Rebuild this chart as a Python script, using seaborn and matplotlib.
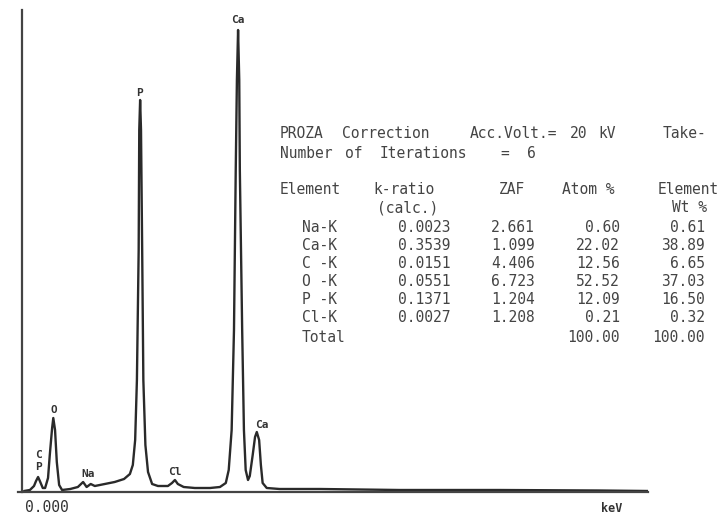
import seaborn as sns
import matplotlib.pyplot as plt

sns.set_style("white")
plt.rcParams['font.family'] = ['DejaVu Sans Mono', 'DejaVu Sans']

# spectrum (keV, counts)
energy = [0.03, 0.13, 0.20, 0.235, 0.27, 0.30, 0.35, 0.39, 0.44, 0.47, 0.51, 0.53,
          0.56, 0.59, 0.63, 0.68, 0.82, 0.95, 1.04, 1.10, 1.17, 1.24, 1.41, 1.58,
          1.74, 1.84, 1.89, 1.93, 1.96, 1.99, 2.00, 2.015, 2.03, 2.05, 2.07, 2.105,
          2.15, 2.22, 2.32, 2.49, 2.56, 2.61, 2.66, 2.76, 2.95, 3.21, 3.38, 3.48,
          3.53, 3.58, 3.62, 3.65, 3.67, 3.69, 3.71, 3.72, 3.76, 3.79, 3.82, 3.86,
          3.89, 3.94, 3.98, 4.01, 4.05, 4.08, 4.11, 4.18, 4.40, 5.09, 6.45, 8.16,
          9.87, 10.70]
counts = [10, 20, 60, 110, 150, 110, 40, 40, 140, 370, 640, 740,
          620, 300, 70, 20, 30, 50, 100, 50, 80, 60, 80, 100,
          130, 180, 270, 520, 1120, 2420, 3620, 3920, 3620, 2420, 1120, 470,
          200, 80, 60, 60, 90, 120, 80, 50, 40, 40, 50, 90,
          220, 620, 1620, 3220, 4120, 4620, 4120, 3220, 1620, 620, 220, 120,
          160, 370, 550, 600, 520, 270, 90, 40, 30, 30, 20, 20,
          15, 10]

# peak labels
peak_names = ['Ca', 'P', 'O', 'C', 'P', 'Na', 'Cl', 'Ca']
peak_x = [3.69, 2.01, 0.54, 0.27, 0.27, 1.12, 2.61, 4.09]
peak_y = [4720, 3990, 820, 370, 250, 180, 200, 670]

# quantification table
elements = ['Na-K', 'Ca-K', 'C -K', 'O -K', 'P -K', 'Cl-K', 'Total']
k_ratio = ['0.0023', '0.3539', '0.0151', '0.0551', '0.1371', '0.0027', '']
zaf = ['2.661', '1.099', '4.406', '6.723', '1.204', '1.208', '']
atom_pct = ['0.60', '22.02', '12.56', '52.52', '12.09', '0.21', '100.00']
wt_pct = ['0.61', '38.89', '6.65', '37.03', '16.50', '0.32', '100.00']

W, H = 722, 516
fig = plt.figure(figsize=(W / 100, H / 100), dpi=100)
ax = fig.add_axes([18 / W, 24 / H, 630 / W, 482 / H])

sns.lineplot(x=energy, y=counts, ax=ax, color='#2a2a2a', linewidth=1.7)
ax.set_xlim(-0.0735, 10.70)
ax.set_ylim(0, 4820)
ax.set_xticks([])
ax.set_yticks([])
for s in ['top', 'right']:
    ax.spines[s].set_visible(False)
ax.spines['left'].set_position(('data', 0))
for s in ['left', 'bottom']:
    ax.spines[s].set_color('#444444')
    ax.spines[s].set_linewidth(1.6)

for name, x, y in zip(peak_names, peak_x, peak_y):
    ax.text(x, y, name, ha='center', va='center', fontsize=8,
            fontweight='bold', color='#333333')

ax.text(0.05, -160, '0.000', ha='left', va='center', fontsize=10.5,
        color='#333333', clip_on=False)
ax.text(10.08, -160, 'keV', ha='center', va='center', fontsize=8.5,
        fontweight='bold', color='#333333', clip_on=False)


def put(px, py, s, ha='left'):
    fig.text(px / W, 1 - py / H, s, ha=ha, va='center', fontsize=10.5,
             color='#444444')


# header lines, word by word
for px, s in [(280, 'PROZA'), (342, 'Correction'), (470, 'Acc.Volt.='),
              (570, '20'), (598, 'kV'), (663, 'Take-')]:
    put(px, 133, s)
for px, s in [(280, 'Number'), (345, 'of'), (380, 'Iterations'),
              (500, '='), (527, '6')]:
    put(px, 153, s)

put(280, 190, 'Element')
put(373, 190, 'k-ratio')
put(512, 190, 'ZAF', ha='center')
put(615, 190, 'Atom %', ha='right')
put(658, 190, 'Element')
put(377, 208, '(calc.)')
put(707, 208, 'Wt %', ha='right')

row_y = [227, 245, 263, 282, 300, 318, 337]
for i, y in enumerate(row_y):
    put(302, y, elements[i])
    put(450, y, k_ratio[i], ha='right')
    put(535, y, zaf[i], ha='right')
    put(620, y, atom_pct[i], ha='right')
    put(705, y, wt_pct[i], ha='right')

fig.savefig('out.png', dpi=100)
